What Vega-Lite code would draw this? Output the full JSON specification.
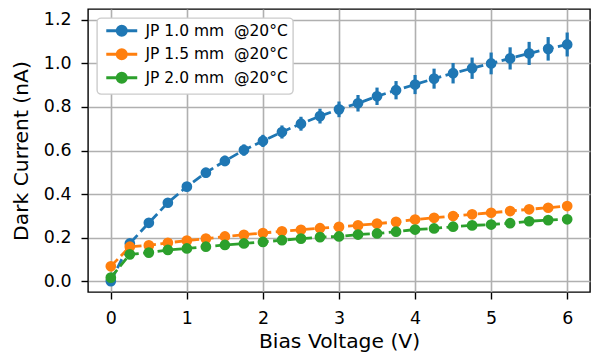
{
  "$schema": "https://vega.github.io/schema/vega-lite/v6.json",
  "width": 502,
  "height": 283,
  "autosize": {"type": "none"},
  "padding": {"left": 88, "top": 9, "right": 2, "bottom": 68},
  "background": "white",
  "config": {
    "font": "DejaVu Sans",
    "view": {"stroke": "black", "strokeWidth": 1.4},
    "axis": {
      "domain": false,
      "tickColor": "black",
      "tickSize": 7,
      "tickWidth": 1.4,
      "labelFontSize": 17.4,
      "labelColor": "black",
      "titleFontSize": 20.3,
      "titleFontWeight": "normal",
      "titleColor": "black",
      "gridColor": "#b0b0b0",
      "gridWidth": 1.6
    },
    "legend": {
      "orient": "top-left",
      "offset": 9,
      "fillColor": "white",
      "strokeColor": "#cccccc",
      "strokeWidth": 1.4,
      "cornerRadius": 4,
      "padding": 5,
      "labelFontSize": 15.5,
      "labelColor": "black",
      "labelOffset": 16,
      "rowPadding": 1.5,
      "symbolOffset": 12
    }
  },
  "data": {
    "values": [
      {"v": 0, "I": 0.0, "err": 0.005, "s": "JP 1.0 mm\u00a0\u00a0@20°C"},
      {"v": 0.25, "I": 0.173, "err": 0.01, "s": "JP 1.0 mm\u00a0\u00a0@20°C"},
      {"v": 0.5, "I": 0.268, "err": 0.014, "s": "JP 1.0 mm\u00a0\u00a0@20°C"},
      {"v": 0.75, "I": 0.36, "err": 0.017, "s": "JP 1.0 mm\u00a0\u00a0@20°C"},
      {"v": 1, "I": 0.434, "err": 0.02, "s": "JP 1.0 mm\u00a0\u00a0@20°C"},
      {"v": 1.25, "I": 0.498, "err": 0.022, "s": "JP 1.0 mm\u00a0\u00a0@20°C"},
      {"v": 1.5, "I": 0.552, "err": 0.024, "s": "JP 1.0 mm\u00a0\u00a0@20°C"},
      {"v": 1.75, "I": 0.602, "err": 0.026, "s": "JP 1.0 mm\u00a0\u00a0@20°C"},
      {"v": 2, "I": 0.644, "err": 0.028, "s": "JP 1.0 mm\u00a0\u00a0@20°C"},
      {"v": 2.25, "I": 0.685, "err": 0.03, "s": "JP 1.0 mm\u00a0\u00a0@20°C"},
      {"v": 2.5, "I": 0.723, "err": 0.032, "s": "JP 1.0 mm\u00a0\u00a0@20°C"},
      {"v": 2.75, "I": 0.758, "err": 0.034, "s": "JP 1.0 mm\u00a0\u00a0@20°C"},
      {"v": 3, "I": 0.789, "err": 0.036, "s": "JP 1.0 mm\u00a0\u00a0@20°C"},
      {"v": 3.25, "I": 0.817, "err": 0.038, "s": "JP 1.0 mm\u00a0\u00a0@20°C"},
      {"v": 3.5, "I": 0.849, "err": 0.04, "s": "JP 1.0 mm\u00a0\u00a0@20°C"},
      {"v": 3.75, "I": 0.877, "err": 0.042, "s": "JP 1.0 mm\u00a0\u00a0@20°C"},
      {"v": 4, "I": 0.903, "err": 0.044, "s": "JP 1.0 mm\u00a0\u00a0@20°C"},
      {"v": 4.25, "I": 0.93, "err": 0.046, "s": "JP 1.0 mm\u00a0\u00a0@20°C"},
      {"v": 4.5, "I": 0.955, "err": 0.047, "s": "JP 1.0 mm\u00a0\u00a0@20°C"},
      {"v": 4.75, "I": 0.978, "err": 0.049, "s": "JP 1.0 mm\u00a0\u00a0@20°C"},
      {"v": 5, "I": 1.0, "err": 0.05, "s": "JP 1.0 mm\u00a0\u00a0@20°C"},
      {"v": 5.25, "I": 1.023, "err": 0.051, "s": "JP 1.0 mm\u00a0\u00a0@20°C"},
      {"v": 5.5, "I": 1.046, "err": 0.053, "s": "JP 1.0 mm\u00a0\u00a0@20°C"},
      {"v": 5.75, "I": 1.067, "err": 0.054, "s": "JP 1.0 mm\u00a0\u00a0@20°C"},
      {"v": 6, "I": 1.087, "err": 0.055, "s": "JP 1.0 mm\u00a0\u00a0@20°C"},
      {"v": 0, "I": 0.068, "err": 0.004, "s": "JP 1.5 mm\u00a0\u00a0@20°C"},
      {"v": 0.25, "I": 0.158, "err": 0.008, "s": "JP 1.5 mm\u00a0\u00a0@20°C"},
      {"v": 0.5, "I": 0.164, "err": 0.008, "s": "JP 1.5 mm\u00a0\u00a0@20°C"},
      {"v": 0.75, "I": 0.176, "err": 0.009, "s": "JP 1.5 mm\u00a0\u00a0@20°C"},
      {"v": 1, "I": 0.186, "err": 0.009, "s": "JP 1.5 mm\u00a0\u00a0@20°C"},
      {"v": 1.25, "I": 0.195, "err": 0.01, "s": "JP 1.5 mm\u00a0\u00a0@20°C"},
      {"v": 1.5, "I": 0.205, "err": 0.01, "s": "JP 1.5 mm\u00a0\u00a0@20°C"},
      {"v": 1.75, "I": 0.213, "err": 0.011, "s": "JP 1.5 mm\u00a0\u00a0@20°C"},
      {"v": 2, "I": 0.221, "err": 0.011, "s": "JP 1.5 mm\u00a0\u00a0@20°C"},
      {"v": 2.25, "I": 0.229, "err": 0.011, "s": "JP 1.5 mm\u00a0\u00a0@20°C"},
      {"v": 2.5, "I": 0.236, "err": 0.012, "s": "JP 1.5 mm\u00a0\u00a0@20°C"},
      {"v": 2.75, "I": 0.243, "err": 0.012, "s": "JP 1.5 mm\u00a0\u00a0@20°C"},
      {"v": 3, "I": 0.249, "err": 0.012, "s": "JP 1.5 mm\u00a0\u00a0@20°C"},
      {"v": 3.25, "I": 0.256, "err": 0.013, "s": "JP 1.5 mm\u00a0\u00a0@20°C"},
      {"v": 3.5, "I": 0.264, "err": 0.013, "s": "JP 1.5 mm\u00a0\u00a0@20°C"},
      {"v": 3.75, "I": 0.272, "err": 0.014, "s": "JP 1.5 mm\u00a0\u00a0@20°C"},
      {"v": 4, "I": 0.283, "err": 0.014, "s": "JP 1.5 mm\u00a0\u00a0@20°C"},
      {"v": 4.25, "I": 0.291, "err": 0.015, "s": "JP 1.5 mm\u00a0\u00a0@20°C"},
      {"v": 4.5, "I": 0.299, "err": 0.015, "s": "JP 1.5 mm\u00a0\u00a0@20°C"},
      {"v": 4.75, "I": 0.307, "err": 0.015, "s": "JP 1.5 mm\u00a0\u00a0@20°C"},
      {"v": 5, "I": 0.314, "err": 0.016, "s": "JP 1.5 mm\u00a0\u00a0@20°C"},
      {"v": 5.25, "I": 0.322, "err": 0.016, "s": "JP 1.5 mm\u00a0\u00a0@20°C"},
      {"v": 5.5, "I": 0.33, "err": 0.016, "s": "JP 1.5 mm\u00a0\u00a0@20°C"},
      {"v": 5.75, "I": 0.337, "err": 0.017, "s": "JP 1.5 mm\u00a0\u00a0@20°C"},
      {"v": 6, "I": 0.345, "err": 0.017, "s": "JP 1.5 mm\u00a0\u00a0@20°C"},
      {"v": 0, "I": 0.016, "err": 0.003, "s": "JP 2.0 mm\u00a0\u00a0@20°C"},
      {"v": 0.25, "I": 0.123, "err": 0.006, "s": "JP 2.0 mm\u00a0\u00a0@20°C"},
      {"v": 0.5, "I": 0.131, "err": 0.007, "s": "JP 2.0 mm\u00a0\u00a0@20°C"},
      {"v": 0.75, "I": 0.143, "err": 0.007, "s": "JP 2.0 mm\u00a0\u00a0@20°C"},
      {"v": 1, "I": 0.15, "err": 0.008, "s": "JP 2.0 mm\u00a0\u00a0@20°C"},
      {"v": 1.25, "I": 0.158, "err": 0.008, "s": "JP 2.0 mm\u00a0\u00a0@20°C"},
      {"v": 1.5, "I": 0.166, "err": 0.008, "s": "JP 2.0 mm\u00a0\u00a0@20°C"},
      {"v": 1.75, "I": 0.173, "err": 0.009, "s": "JP 2.0 mm\u00a0\u00a0@20°C"},
      {"v": 2, "I": 0.18, "err": 0.009, "s": "JP 2.0 mm\u00a0\u00a0@20°C"},
      {"v": 2.25, "I": 0.188, "err": 0.009, "s": "JP 2.0 mm\u00a0\u00a0@20°C"},
      {"v": 2.5, "I": 0.195, "err": 0.01, "s": "JP 2.0 mm\u00a0\u00a0@20°C"},
      {"v": 2.75, "I": 0.202, "err": 0.01, "s": "JP 2.0 mm\u00a0\u00a0@20°C"},
      {"v": 3, "I": 0.205, "err": 0.01, "s": "JP 2.0 mm\u00a0\u00a0@20°C"},
      {"v": 3.25, "I": 0.214, "err": 0.011, "s": "JP 2.0 mm\u00a0\u00a0@20°C"},
      {"v": 3.5, "I": 0.219, "err": 0.011, "s": "JP 2.0 mm\u00a0\u00a0@20°C"},
      {"v": 3.75, "I": 0.227, "err": 0.011, "s": "JP 2.0 mm\u00a0\u00a0@20°C"},
      {"v": 4, "I": 0.237, "err": 0.012, "s": "JP 2.0 mm\u00a0\u00a0@20°C"},
      {"v": 4.25, "I": 0.242, "err": 0.012, "s": "JP 2.0 mm\u00a0\u00a0@20°C"},
      {"v": 4.5, "I": 0.25, "err": 0.012, "s": "JP 2.0 mm\u00a0\u00a0@20°C"},
      {"v": 4.75, "I": 0.256, "err": 0.013, "s": "JP 2.0 mm\u00a0\u00a0@20°C"},
      {"v": 5, "I": 0.26, "err": 0.013, "s": "JP 2.0 mm\u00a0\u00a0@20°C"},
      {"v": 5.25, "I": 0.266, "err": 0.013, "s": "JP 2.0 mm\u00a0\u00a0@20°C"},
      {"v": 5.5, "I": 0.275, "err": 0.014, "s": "JP 2.0 mm\u00a0\u00a0@20°C"},
      {"v": 5.75, "I": 0.28, "err": 0.014, "s": "JP 2.0 mm\u00a0\u00a0@20°C"},
      {"v": 6, "I": 0.284, "err": 0.014, "s": "JP 2.0 mm\u00a0\u00a0@20°C"}
    ]
  },
  "encoding": {
    "x": {
      "field": "v", "type": "quantitative",
      "scale": {"domain": [-0.3, 6.3], "nice": false, "zero": false},
      "axis": {"values": [0, 1, 2, 3, 4, 5, 6], "format": "d", "title": "Bias Voltage (V)", "labelPadding": 10, "titlePadding": 5}
    },
    "color": {
      "field": "s", "type": "nominal",
      "scale": {"range": ["#1f77b4", "#ff7f0e", "#2ca02c"]},
      "legend": {
        "title": null,
        "symbolType": "M-2.58,0L2.58,0M-0.75,0A0.75,0.75 0 1 1 0.75,0A0.75,0.75 0 1 1 -0.75,0Z",
        "symbolSize": 144,
        "symbolStrokeWidth": 3,
        "symbolOpacity": 1
      }
    }
  },
  "layer": [
    {
      "mark": {"type": "errorbar", "thickness": 3.2},
      "encoding": {
        "y": {"field": "I", "type": "quantitative",
          "scale": {"domain": [-0.05, 1.25], "nice": false, "zero": false},
          "axis": {"values": [0, 0.2, 0.4, 0.6, 0.8, 1.0, 1.2], "format": ".1f", "title": "Dark Current (nA)", "labelPadding": 10, "titlePadding": 12}},
        "yError": {"field": "err"}
      }
    },
    {
      "mark": {"type": "line", "strokeWidth": 2.8, "strokeDash": [10, 4.5]},
      "encoding": {
        "y": {"field": "I", "type": "quantitative"}
      }
    },
    {
      "mark": {"type": "point", "filled": true, "opacity": 1, "size": 115},
      "encoding": {
        "y": {"field": "I", "type": "quantitative"}
      }
    }
  ]
}
